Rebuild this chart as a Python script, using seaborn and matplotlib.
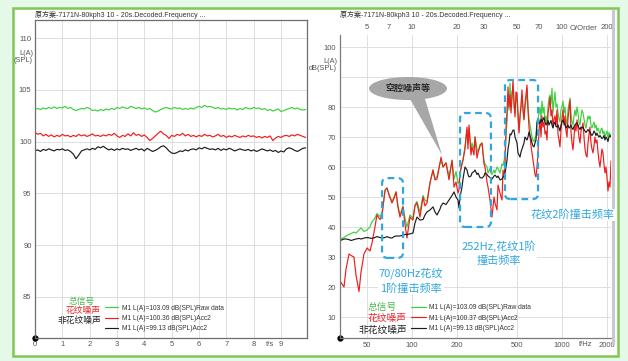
import matplotlib
matplotlib.use("Agg")
import matplotlib.pyplot as plt
import seaborn as sns
from matplotlib.patches import FancyBboxPatch, Ellipse, Polygon, Rectangle
from matplotlib.ticker import NullLocator

# ---------------- left panel: level vs time ----------------
t_step = 0.1
green_t = [103.1, 103.2, 103.1, 103.25, 103.15, 103.3, 103.2, 103.35, 103.2, 103.3,
           103.25, 103.4, 103.2, 103.3, 103.1, 103.0, 103.1, 103.2, 103.15, 103.3,
           103.2, 103.0, 103.05, 102.95, 103.1, 103.0, 103.15, 103.05, 103.2, 103.1,
           103.3, 103.2, 103.35, 103.25, 103.2, 103.4, 103.3, 103.2, 103.3, 103.15,
           103.25, 103.1, 103.2, 103.0, 102.85, 102.95, 103.1, 103.2, 103.3, 103.2,
           103.15, 103.3, 103.2, 103.25, 103.1, 103.2, 103.1, 103.25, 103.15, 103.3,
           103.4, 103.3, 103.5, 103.35, 103.4, 103.3, 103.2, 103.3, 103.15, 103.2,
           103.1, 103.25, 103.15, 103.2, 103.05, 103.2, 103.1, 103.3, 103.2, 103.15,
           103.3, 103.2, 103.25, 103.1, 103.2, 103.0, 103.1, 102.95, 103.05, 103.15,
           102.9, 103.0, 103.1, 103.2, 103.3, 103.15, 103.25, 103.1, 103.05, 103.1]
red_t = [100.9, 100.7, 100.8, 100.55, 100.7, 100.5, 100.65, 100.45, 100.6, 100.5,
         100.7, 100.55, 100.6, 100.45, 100.6, 100.5, 100.7, 100.55, 100.65, 100.5,
         100.6, 100.75, 100.55, 100.6, 100.5, 100.65, 100.55, 100.7, 100.6, 100.8,
         100.55, 100.4, 100.6, 100.5, 100.75, 100.55, 100.85, 100.6, 100.7, 100.5,
         100.65, 100.4, 100.1, 100.3, 100.55, 100.8, 101.0, 100.75, 100.6, 100.3,
         100.6, 100.5, 100.7, 100.6, 100.8, 100.55, 100.7, 100.5, 100.6, 100.45,
         100.6, 100.5, 100.7, 100.55, 100.6, 100.45, 100.55, 100.7, 100.5, 100.6,
         100.4, 100.55, 100.45, 100.6, 100.5, 100.4, 100.55, 100.45, 100.6, 100.5,
         100.55, 100.4, 100.5, 100.35, 100.5, 100.4, 100.55, 100.1, 100.35, 100.5,
         100.4, 100.55, 100.6, 100.5, 100.65, 100.55, 100.7, 100.6, 100.5, 100.4]
black_t = [99.1, 99.2, 99.05, 99.25, 99.15, 99.3, 99.2, 99.1, 99.25, 99.2,
           99.3, 99.15, 99.2, 99.05, 98.8, 98.35, 98.7, 99.1, 99.2, 99.3,
           99.2, 99.35, 99.25, 99.5, 99.4, 99.55, 99.35, 99.2, 99.3, 99.15,
           99.3, 99.2, 99.35, 99.25, 99.3, 99.15, 99.25, 99.35, 99.2, 99.3,
           99.1, 99.35, 99.2, 99.05, 99.15, 99.3, 99.5, 99.6, 99.4, 99.1,
           98.9, 98.85, 98.95, 99.1, 99.05, 99.2, 99.1, 99.25, 99.3, 99.2,
           99.4, 99.3, 99.45, 99.35, 99.25, 99.3, 99.2, 99.35, 99.15, 99.3,
           99.2, 99.35, 99.25, 99.1, 99.2, 99.3, 99.2, 99.15, 99.25, 99.1,
           99.2, 99.05, 99.15, 99.3, 99.2, 99.1, 99.2, 99.05, 99.15, 98.95,
           99.1, 99.0, 99.3, 99.4, 99.3, 99.15, 99.05, 99.2, 99.35, 99.4]

# ---------------- right panel: spectrum ----------------
freq_hz = [33.0, 34.0, 35.1, 36.2, 37.9, 39.1, 40.9, 42.2, 44.2, 45.6,
           47.7, 50.0, 52.3, 53.9, 56.5, 58.2, 61.1, 63.0, 66.0, 68.0,
           70.2, 73.4, 75.7, 78.1, 80.5, 83.0, 86.9, 89.6, 92.4, 96.8,
           101.4, 104.5, 107.8, 112.9, 118.2, 121.9, 125.7, 131.7, 137.9, 142.2,
           146.7, 153.6, 156.0, 160.9, 168.4, 176.4, 184.7, 190.5, 196.4, 202.5,
           205.7, 208.8, 215.3, 218.7, 225.5, 232.5, 236.1, 239.8, 247.3, 251.1,
           258.9, 263.0, 271.2, 275.4, 284.0, 292.9, 302.0, 306.7, 316.3, 321.2,
           331.2, 336.3, 341.5, 352.2, 357.7, 368.8, 374.6, 386.2, 398.3, 404.4,
           410.7,
           417.1, 423.5, 430.1, 436.8, 443.5, 450.4, 457.4, 464.5, 471.7, 479.0,
           486.4, 494.0, 501.6, 509.4, 517.3, 525.2, 533.4, 541.6, 550.0, 558.5,
           567.2, 576.0, 584.9, 594.0, 603.2, 612.5, 622.0, 631.6, 641.4, 651.4,
           661.4, 671.7, 682.1, 692.7, 703.4, 714.3, 725.4, 736.6, 748.0, 759.6,
           771.4, 783.3, 795.5, 807.8, 820.3, 833.0, 845.9, 859.0, 872.3, 885.8,
           899.6, 913.5, 927.6, 942.0, 956.6, 971.0, 986.0, 1001, 1017, 1033,
           1049, 1065, 1082, 1098, 1115, 1133, 1150, 1168, 1186, 1205,
           1223, 1242, 1262, 1281, 1301, 1321, 1342, 1362, 1384, 1405,
           1427, 1449, 1472, 1494, 1518, 1540, 1564, 1588, 1613, 1638,
           1663, 1689, 1715, 1742, 1769, 1796, 1824, 1852, 1881, 1910,
           1940, 1970, 2000, 2031, 2063, 2095, 2128]
green_f = [36.0, 36.2, 36.5, 37.0, 37.5, 37.8, 38.3, 38.0, 39.0, 39.7,
           38.5, 39.0, 40.0, 41.7, 43.0, 44.5, 43.5, 45.0, 52.3, 53.0,
           51.0, 48.5, 50.0, 51.7, 47.0, 44.0, 47.0, 43.0, 40.0, 44.0,
           43.0, 47.5, 48.5, 45.0, 50.5, 49.0, 48.5, 55.0, 59.0, 56.0,
           57.0, 61.5, 62.0, 60.0, 61.5, 57.0, 62.0, 56.0, 58.5, 54.5,
           55.0, 58.0, 61.0, 62.5, 67.0, 72.5, 68.0, 73.0, 66.0, 68.0,
           66.0, 70.0, 66.0, 65.0, 67.5, 68.0, 62.0, 61.0, 60.0, 58.0,
           59.5, 58.0, 57.5, 59.0, 58.0, 60.0, 59.5, 58.0, 61.0, 60.5,
           62.0,
           64.0, 70.0, 75.0, 84.0, 79.0, 88.0, 80.0, 85.0, 86.0, 80.0,
           78.0, 84.0, 82.0, 77.0, 72.0, 76.0, 80.0, 84.0, 80.0, 76.0,
           80.0, 82.0, 86.0, 80.0, 76.0, 74.0, 72.0, 70.0, 69.0, 68.5,
           69.5, 70.5, 75.5, 76.0, 78.0, 80.0, 76.0, 82.0, 78.0, 80.0,
           75.0, 77.0, 74.0, 80.0, 83.0, 84.0, 81.0, 86.3, 78.0, 82.0,
           85.0, 80.0, 81.0, 78.0, 76.0, 75.0, 79.0, 80.0, 82.0, 78.0,
           80.0, 76.0, 74.0, 79.0, 81.0, 83.0, 78.0, 75.0, 74.0, 77.0,
           79.0, 77.0, 80.0, 78.0, 75.0, 74.0, 77.0, 79.0, 78.0, 76.0,
           74.0, 73.0, 75.0, 77.0, 76.0, 77.0, 74.0, 73.0, 74.0, 75.0,
           73.0, 74.0, 72.0, 73.0, 72.0, 71.0, 72.5, 73.0, 71.0, 72.0,
           70.0, 71.0, 72.0, 70.0, 71.5, 70.5, 71.0]
red_f = [22.0, 21.0, 20.0, 26.0, 31.0, 30.5, 30.0, 24.0, 18.5, 25.0,
         31.0, 33.0, 32.0, 34.5, 40.0, 44.0, 42.5, 44.0, 52.3, 53.0,
         50.5, 48.0, 49.5, 51.7, 46.5, 43.3, 46.7, 41.0, 36.3, 43.3,
         42.3, 47.0, 48.0, 43.3, 50.0, 47.0, 48.0, 54.7, 59.0, 55.7,
         56.0, 61.3, 63.3, 60.0, 61.3, 55.7, 62.3, 53.3, 55.0, 51.3,
         52.5, 58.0, 61.0, 62.3, 66.0, 73.3, 66.0, 74.0, 64.0, 66.7,
         64.0, 70.0, 63.0, 64.7, 67.0, 68.0, 61.0, 60.0, 55.0, 53.3,
         49.0, 46.0, 43.3, 50.0, 48.0, 45.7, 54.0, 51.3, 49.0, 59.0,
         56.7,
         60.0, 73.0, 78.0, 86.7, 80.0, 84.0, 78.0, 83.0, 89.0, 82.0,
         76.7, 85.0, 84.7, 78.0, 71.3, 77.0, 80.5, 85.7, 79.0, 75.7,
         81.0, 84.0, 87.3, 79.0, 73.3, 70.0, 67.0, 64.7, 62.3, 60.0,
         57.5, 56.7, 60.0, 64.7, 72.0, 75.7, 70.0, 77.0, 73.3, 75.0,
         71.0, 72.0, 69.0, 78.0, 80.0, 83.3, 77.0, 79.0, 73.3, 76.0,
         77.0, 74.0, 79.0, 71.0, 69.0, 66.7, 72.0, 76.0, 79.0, 74.0,
         77.0, 72.0, 70.0, 76.0, 79.0, 82.3, 72.0, 68.0, 65.7, 70.0,
         74.0, 72.0, 75.7, 73.0, 70.0, 68.0, 72.0, 73.0, 74.7, 70.0,
         66.0, 64.0, 63.3, 68.0, 71.0, 73.3, 68.0, 66.0, 64.7, 67.0,
         70.0, 68.0, 69.0, 65.0, 62.0, 60.0, 63.0, 66.0, 64.7, 61.0,
         58.0, 60.0, 56.7, 52.0, 55.0, 53.3, 62.0]
black_f = [35.5, 35.7, 36.0, 36.0, 35.8, 35.5, 35.8, 36.0, 36.2, 36.0,
           36.3, 36.5, 36.3, 36.2, 36.5, 36.8, 36.5, 36.3, 36.5, 36.8,
           36.5, 36.3, 36.8, 37.0, 37.0, 37.0, 37.3, 37.5, 37.5, 37.7,
           38.0, 41.3, 43.3, 42.3, 42.5, 44.0, 45.0, 45.7, 46.7, 45.0,
           44.0, 46.0, 47.0, 48.0, 47.5, 49.0, 50.5, 51.7, 50.0, 49.0,
           46.3, 50.0, 53.3, 56.0, 60.0, 59.0, 57.5, 56.7, 57.0, 58.0,
           58.5, 59.0, 57.5, 58.0, 56.5, 56.3, 57.0, 58.0, 57.5, 57.0,
           56.5, 56.3, 56.0, 57.0, 57.3, 56.5, 57.0, 55.7, 56.0, 56.7,
           56.7,
           58.0, 60.0, 62.3, 66.0, 68.0, 71.0, 70.7, 71.5, 72.3, 72.3,
           70.0, 69.0, 68.0, 64.7, 64.0, 63.3, 65.0, 66.0, 67.0, 68.0,
           70.0, 69.5, 69.0, 70.0, 71.7, 70.5, 69.5, 68.0, 67.0, 66.7,
           68.0, 69.0, 74.7, 75.7, 75.0, 74.5, 76.0, 75.0, 75.7, 76.5,
           75.0, 74.0, 74.5, 75.5, 74.0, 74.7, 75.5, 74.0, 73.0, 74.5,
           75.0, 73.5, 73.3, 74.0, 73.0, 72.0, 74.0, 75.0, 75.7, 74.7,
           74.0, 73.0, 73.5, 74.0, 73.0, 73.3, 74.0, 73.0, 72.5, 73.5,
           74.0, 74.5, 74.7, 74.0, 73.0, 72.5, 73.3, 73.0, 73.3, 72.5,
           72.0, 71.5, 72.0, 72.5, 72.0, 71.7, 71.0, 70.5, 71.0, 72.0,
           71.5, 70.5, 71.3, 70.5, 70.0, 70.5, 70.0, 69.5, 69.7, 70.5,
           69.0, 70.0, 69.5, 68.5, 70.0, 70.5, 70.0]

series_names = ["总信号", "花纹噪声", "非花纹噪声"]
legend_left = ["M1 L(A)=103.09 dB(SPL)Raw data", "M1 L(A)=100.36 dB(SPL)Acc2",
               "M1 L(A)=99.13 dB(SPL)Acc2"]
legend_right = ["M1 L(A)=103.09 dB(SPL)Raw data", "M1 L(A)=100.37 dB(SPL)Acc2",
                "M1 L(A)=99.13 dB(SPL)Acc2"]
title_text = "原方案-7171N-80kph3 10 - 20s.Decoded.Frequency ..."
time_ticks = [0, 1, 2, 3, 4, 5, 6, 7, 8, 9]
left_yticks = [85, 90, 95, 100, 105, 110]
freq_ticks = [50, 100, 200, 500, 1000, 2000]
order_ticks = [5, 7, 10, 20, 30, 50, 70, 100, 200]
right_yticks = [10, 20, 30, 40, 50, 60, 70, 80, 90, 100]
# highlighted ranges: (f_low, f_high, dB_low, dB_high)
boxes = [(63, 87, 29.7, 56.3), (209, 336, 40, 78), (417, 693, 49.3, 89)]

line_colors = ["#3fcf3f", "#f21b1b", "#1c1c1c"]
label_colors = ["#4db853", "#e8262b", "#222222"]
cyan = "#2fa6df"

sns.set_style("white")
plt.rcParams["font.family"] = ["Liberation Sans", "Noto Sans CJK SC"]
cjk = ["Noto Sans CJK SC", "DejaVu Sans"]

W, H = 628, 361
def fx(x):
    return x / W
def fy(y):
    return 1 - y / H

fig = plt.figure(figsize=(6.28, 3.61), dpi=100, facecolor="#e4f9e7")
fig.patches.append(Rectangle((fx(13), fy(356)), fx(605), 348 / H, transform=fig.transFigure,
                             facecolor="white", edgecolor="#82c657", lw=1.8, zorder=-5))

axL = fig.add_axes([fx(35), fy(338), fx(272), 318 / H])
axR = fig.add_axes([fx(340), fy(338), fx(271), 303 / H])

# ---- left ----
t = [i * t_step for i in range(len(green_t))]
for vals, c, lab in zip([green_t, red_t, black_t], line_colors, legend_left):
    sns.lineplot(x=t, y=vals, ax=axL, color=c, lw=0.85, label=lab, estimator=None)
axL.set_xlim(0, 9.95)
axL.set_ylim(81.04, 111.74)
axL.set_xticks(time_ticks)
axL.set_yticks(left_yticks)
axL.grid(True, color="#dedede", lw=0.7)
axL.tick_params(length=0, pad=2.5, labelsize=5.5, colors="#555555")
for s in axL.spines.values():
    s.set_color("#6e6e6e")
    s.set_linewidth(0.9)
axL.set_xlabel("")
axL.set_ylabel("")
axL.legend(handles=axL.lines[:3], labels=legend_left, loc="lower left",
           bbox_to_anchor=((105 - 35) / 272, 0.018), frameon=False, fontsize=4.8,
           handlelength=1.9, handletextpad=0.7, labelspacing=0.5, borderpad=0,
           borderaxespad=0, labelcolor="#333333")
axL.plot([0], [0], "o", color="black", ms=3.5, transform=axL.transAxes, clip_on=False)

# ---- right ----
for vals, c, lab in zip([green_f, red_f, black_f], line_colors, legend_right):
    sns.lineplot(x=freq_hz, y=vals, ax=axR, color=c, lw=0.85, label=lab, estimator=None)
axR.set_xscale("log")
axR.set_xlim(33, 2128)
axR.set_ylim(3, 104)
axR.set_xticks(freq_ticks)
axR.set_xticklabels([str(v) for v in freq_ticks])
axR.xaxis.set_minor_locator(NullLocator())
axR.set_yticks(right_yticks)
axR.set_yticklabels(["" if v == 90 else str(v) for v in right_yticks])
axR.grid(True, color="#dedede", lw=0.7)
axR.tick_params(length=0, pad=3, labelsize=5.5, colors="#555555")
for k in ["top", "right"]:
    axR.spines[k].set_visible(False)
for k in ["left", "bottom"]:
    axR.spines[k].set_color("#7a7a7a")
    axR.spines[k].set_linewidth(0.9)
axR.set_xlabel("")
axR.set_ylabel("")
axR.legend(handles=axR.lines[:3], labels=legend_right, loc="lower left",
           bbox_to_anchor=((411 - 340) / 271, 0.02), frameon=False, fontsize=4.8,
           handlelength=2.2, handletextpad=0.5, labelspacing=0.5, borderpad=0,
           borderaxespad=0, labelcolor="#333333")
axR.plot([0], [0], "o", color="black", ms=3.5, transform=axR.transAxes, clip_on=False)

sec = axR.secondary_xaxis("top", functions=(lambda f: f / 10, lambda o: o * 10))
sec.set_xticks(order_ticks)
sec.set_xticklabels([str(v) for v in order_ticks])
sec.xaxis.set_minor_locator(NullLocator())
sec.tick_params(length=0, pad=3, labelsize=5.5, colors="#555555")
sec.spines["top"].set_visible(False)

# dashed highlight boxes
to_axes = axR.transData + axR.transAxes.inverted()
for f0, f1, d0, d1 in boxes:
    (x0, y0), (x1, y1) = to_axes.transform([[f0, d0], [f1, d1]])
    axR.add_patch(FancyBboxPatch((x0, y0), x1 - x0, y1 - y0, transform=axR.transAxes,
                                 boxstyle="round,pad=0,rounding_size=0.02",
                                 mutation_aspect=271 / 303, fill=False, edgecolor=cyan,
                                 lw=1.6, linestyle=(0, (3, 2)), zorder=6, clip_on=False))

# callout
axR.add_patch(Ellipse((0.2509, 0.8234), 0.2878, 0.0759, transform=axR.transAxes,
                      facecolor="#a7a7a7", edgecolor="none", zorder=6, clip_on=False))
axR.add_patch(Polygon([(0.2583, 0.7888), (0.3137, 0.7888), (0.3764, 0.6040)],
                      closed=True, transform=axR.transAxes, facecolor="#a7a7a7",
                      edgecolor="none", zorder=6, clip_on=False))
fig.text(fx(408), fy(88.5), "空腔噪声等", ha="center", va="center", fontsize=6.5,
         fontweight="bold", color="#2a2a2a", family=cjk, zorder=8)

# right gray bar
fig.patches.append(Rectangle((fx(612), fy(345)), fx(3), 335 / H, transform=fig.transFigure,
                             facecolor="#c9c9d3", edgecolor="none", zorder=3))

# cyan notes
note_kw = dict(ha="center", va="center", fontsize=8, color=cyan, family=cjk,
               linespacing=1.45, zorder=9,
               bbox=dict(facecolor="white", edgecolor="none", pad=0.6))
fig.text(fx(411), fy(280.5), "70/80Hz花纹\n1阶撞击频率", **note_kw)
fig.text(fx(499), fy(253), "252Hz,花纹1阶\n撞击频率", **note_kw)
fig.text(fx(573), fy(215), "花纹2阶撞击频率", **note_kw)

# titles, units, axis name labels
small = dict(fontsize=5, color="#333333", va="center")
fig.text(fx(35), fy(15), title_text, ha="left", **small)
fig.text(fx(340), fy(15), title_text, ha="left", **small)
fig.text(fx(33), fy(57), "L(A)\n(SPL)", ha="right", fontsize=5.3, color="#555555",
         va="center", linespacing=1.1)
fig.text(fx(337), fy(65), "L(A)\ndB(SPL)", ha="right", fontsize=5.3, color="#555555",
         va="center", linespacing=1.1)
fig.text(fx(270), fy(345), "t/s", ha="center", va="center", fontsize=5.5, color="#555555")
fig.text(fx(586), fy(345), "f/Hz", ha="center", va="center", fontsize=5.5, color="#555555")
fig.text(fx(584), fy(28), "O/Order", ha="center", va="center", fontsize=5.5, color="#555555")

# series labels in Chinese
for name, col, xr, yr in zip(series_names, label_colors, [95, 101, 101], [301.5, 311, 320.5]):
    fig.text(fx(xr), fy(yr), name, ha="right", va="center", fontsize=6.3, color=col, family=cjk)
for name, col, xr, yr in zip(series_names, label_colors, [397, 406, 407], [307, 318, 330]):
    fig.text(fx(xr), fy(yr), name, ha="right", va="center", fontsize=7, color=col, family=cjk)

fig.savefig("out.png", dpi=100, facecolor=fig.get_facecolor())
